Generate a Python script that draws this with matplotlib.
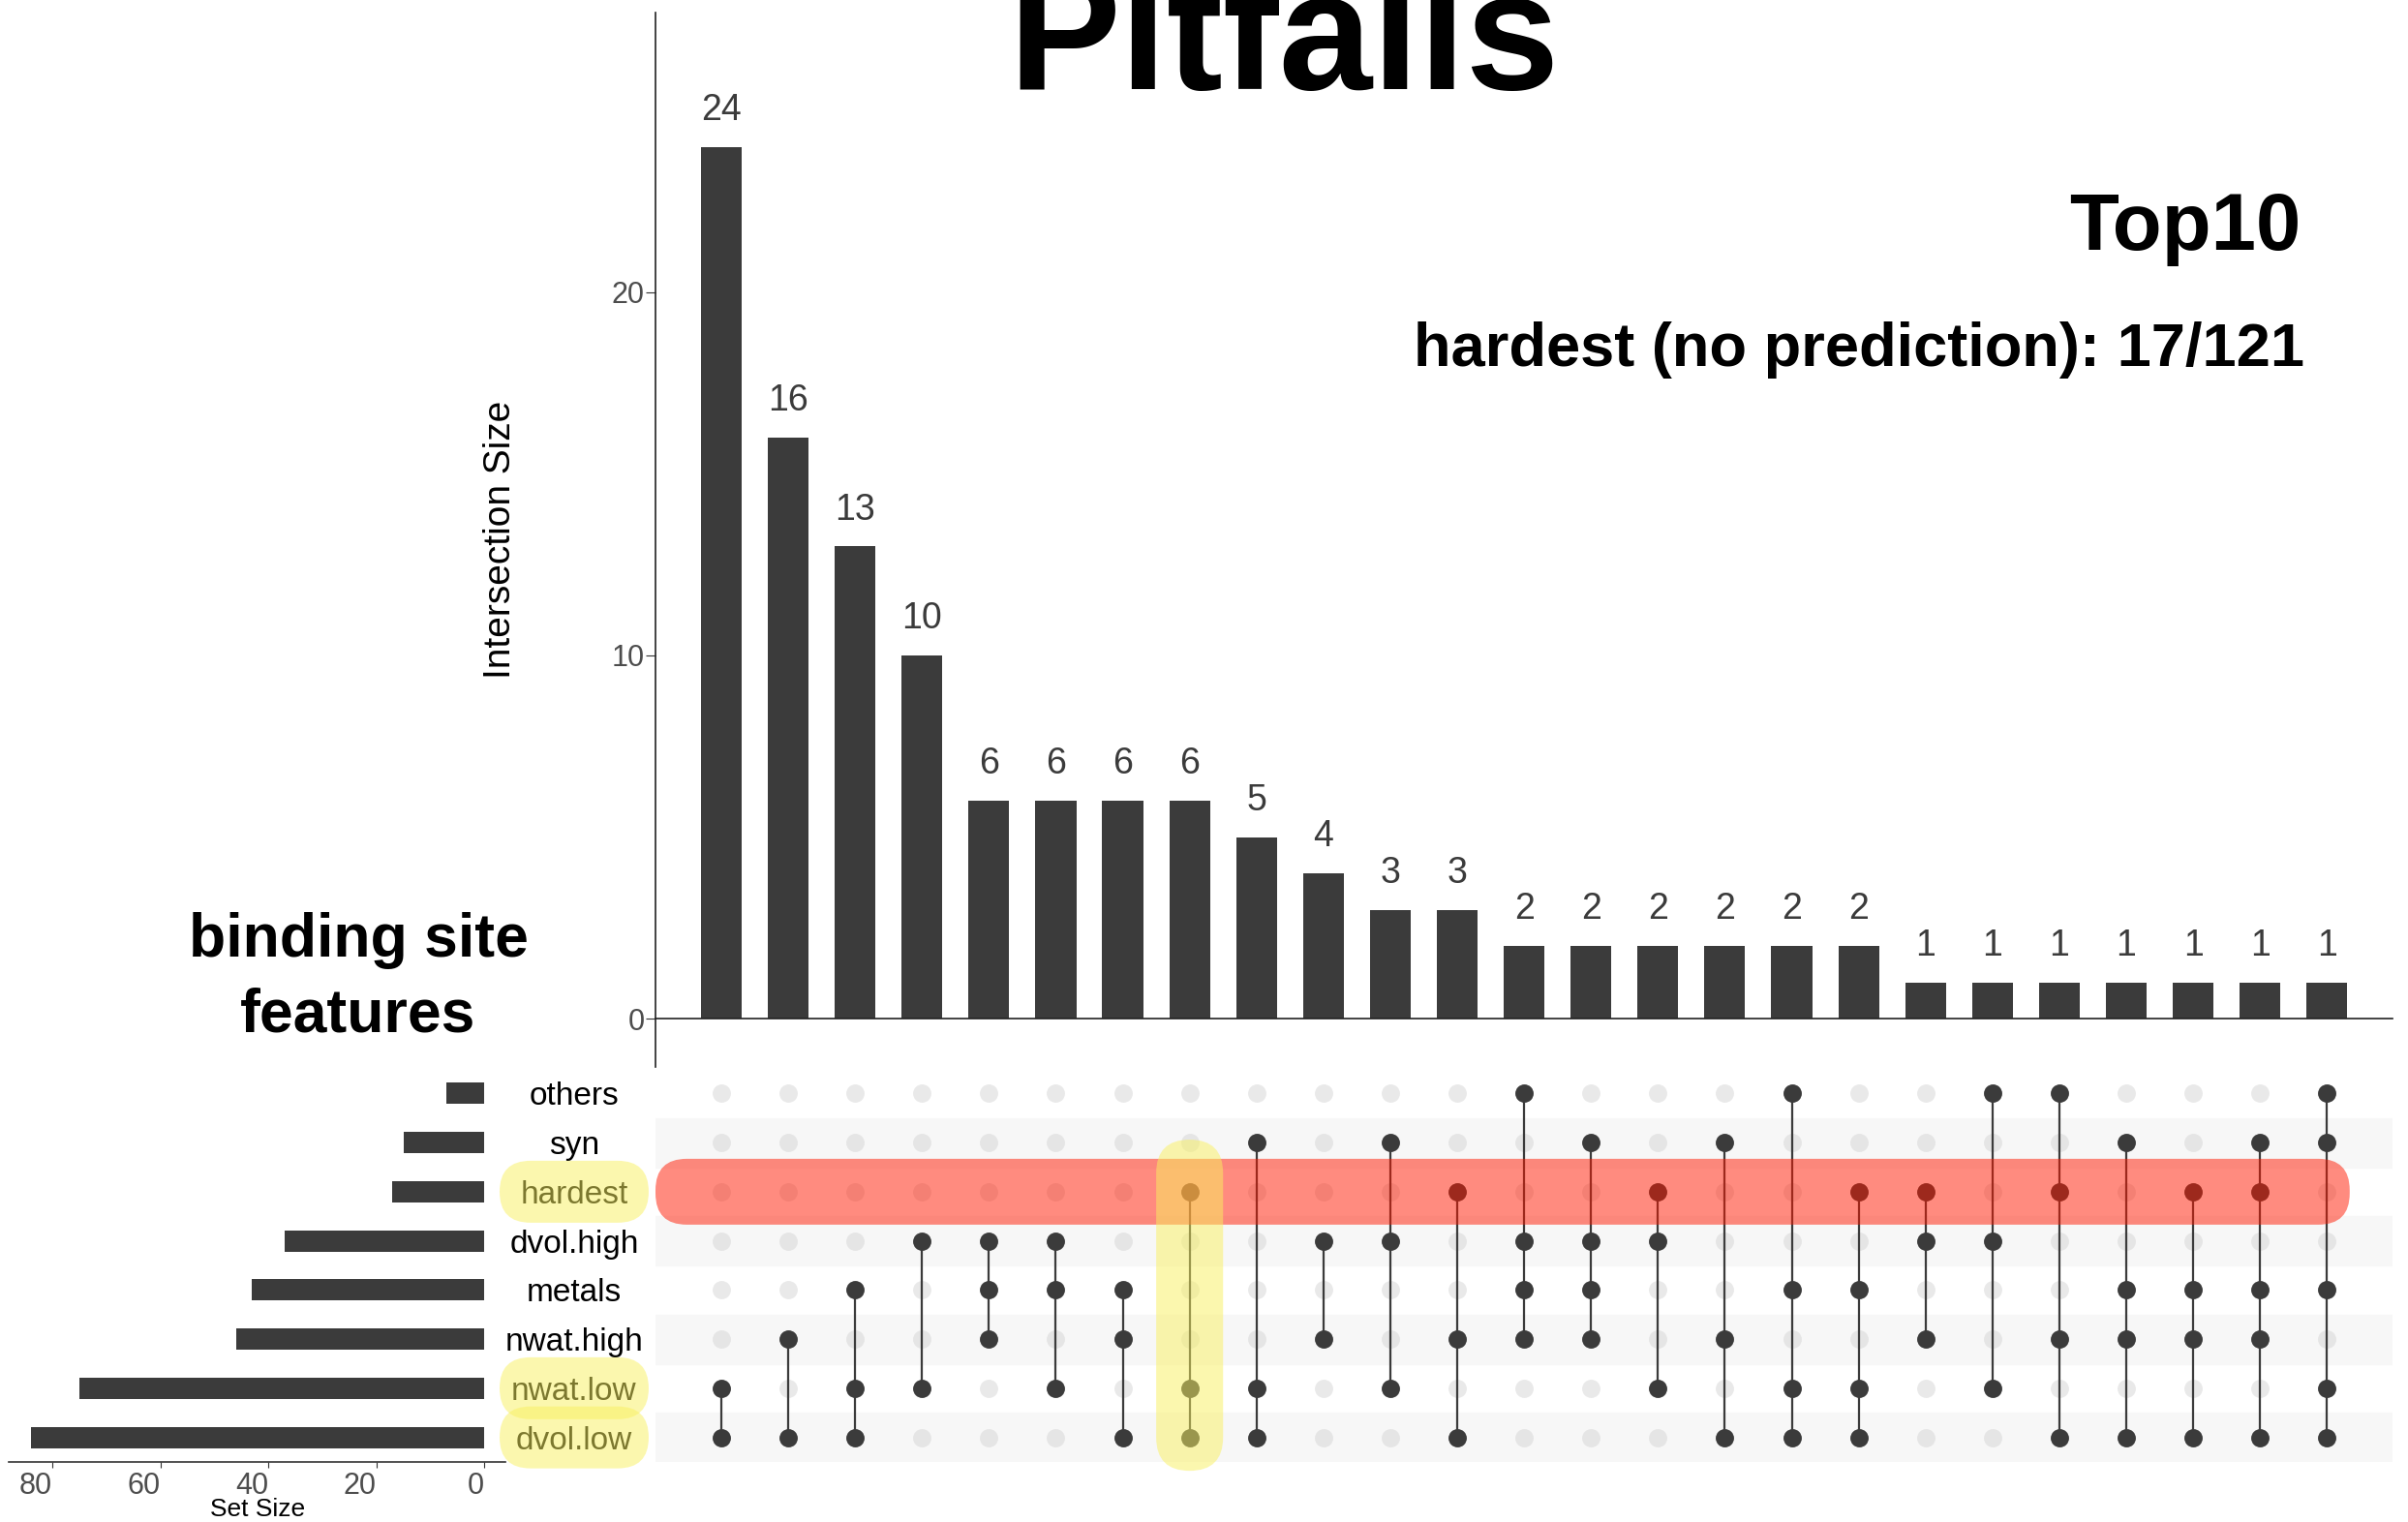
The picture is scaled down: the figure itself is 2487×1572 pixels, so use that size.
import matplotlib
matplotlib.use('Agg')
import matplotlib.pyplot as plt
import numpy as np
from matplotlib.patches import FancyBboxPatch

plt.rcParams['font.family'] = ['Liberation Sans', 'DejaVu Sans']

# sets, top row first
sets = ['others', 'syn', 'hardest', 'dvol.high', 'metals', 'nwat.high', 'nwat.low', 'dvol.low']
set_sizes = [7, 15, 17, 37, 43, 46, 75, 84]

# intersections, ordered by size
intersection_sizes = [24, 16, 13, 10, 6, 6, 6, 6, 5, 4, 3, 3, 2, 2, 2, 2, 2, 2, 1, 1, 1, 1, 1, 1, 1]
intersection_members = [
    ['nwat.low', 'dvol.low'],
    ['nwat.high', 'dvol.low'],
    ['metals', 'nwat.low', 'dvol.low'],
    ['dvol.high', 'nwat.low'],
    ['dvol.high', 'metals', 'nwat.high'],
    ['dvol.high', 'metals', 'nwat.low'],
    ['metals', 'nwat.high', 'dvol.low'],
    ['hardest', 'nwat.low', 'dvol.low'],
    ['syn', 'nwat.low', 'dvol.low'],
    ['dvol.high', 'nwat.high'],
    ['syn', 'dvol.high', 'nwat.low'],
    ['hardest', 'nwat.high', 'dvol.low'],
    ['others', 'dvol.high', 'metals', 'nwat.high'],
    ['syn', 'dvol.high', 'metals', 'nwat.high'],
    ['hardest', 'dvol.high', 'nwat.low'],
    ['syn', 'nwat.high', 'dvol.low'],
    ['others', 'metals', 'nwat.low', 'dvol.low'],
    ['hardest', 'metals', 'nwat.low', 'dvol.low'],
    ['hardest', 'dvol.high', 'nwat.high'],
    ['others', 'dvol.high', 'nwat.low'],
    ['others', 'hardest', 'nwat.high', 'dvol.low'],
    ['syn', 'metals', 'nwat.high', 'dvol.low'],
    ['hardest', 'metals', 'nwat.high', 'dvol.low'],
    ['syn', 'hardest', 'metals', 'nwat.high', 'dvol.low'],
    ['others', 'syn', 'metals', 'nwat.low', 'dvol.low'],
]

# highlights
highlight_row = 'hardest'
highlight_col = 7
highlight_labels = ['hardest', 'nwat.low', 'dvol.low']

bar_color = '#3b3b3b'
red = '#ff1900'
yellow = '#f9f15f'

W, H = 2487, 1572
fig = plt.figure(figsize=(W / 100, H / 100), dpi=100)


def px_axes(l, t, r, b):
    return fig.add_axes([l / W, 1 - b / H, (r - l) / W, (b - t) / H])


n_cols = len(intersection_sizes)
xlim = (-0.984, n_cols - 0.02)

# ---- set size bars (left) ----
ax_set = px_axes(9, 1104, 522, 1510)
rows = np.arange(len(sets))
ax_set.barh(rows, set_sizes, height=0.43, color=bar_color)
ax_set.set_ylim(len(sets) - 0.5, -0.5)
ax_set.set_xlim(88.1, -3.9)
ax_set.set_xticks([80, 60, 40, 20, 0])
ax_set.set_xticklabels(['80', '60', '40', '20', '0'], ha='right')
ax_set.tick_params(axis='x', labelsize=22, labelcolor='#4d4d4d', color='#333333', length=4, pad=3)
ax_set.set_yticks([])
for s in ['left', 'right', 'top']:
    ax_set.spines[s].set_visible(False)
ax_set.spines['bottom'].set_color('#333333')
ax_set.spines['bottom'].set_linewidth(1.2)
ax_set.patch.set_alpha(0)
fig.text(266 / W, 1 - 1566 / H, 'Set Size', ha='center', va='baseline', fontsize=19)

# ---- intersection size bars (top) ----
ax_bar = px_axes(677, 13, 2471, 1102)
cols = np.arange(n_cols)
ax_bar.bar(cols, intersection_sizes, width=0.61, color=bar_color)
for c, v in zip(cols, intersection_sizes):
    ax_bar.annotate(str(v), (c, v), xytext=(0, 20), textcoords='offset points',
                    ha='center', va='baseline', fontsize=27, color='#3b3b3b')
ax_bar.set_xlim(*xlim)
ax_bar.set_ylim(-1.33, 27.7)
ax_bar.set_yticks([0, 10, 20])
ax_bar.tick_params(axis='y', labelsize=22, labelcolor='#4d4d4d', color='#333333', length=7, pad=1)
ax_bar.set_xticks([])
ax_bar.spines['top'].set_visible(False)
ax_bar.spines['right'].set_visible(False)
ax_bar.spines['bottom'].set_position(('data', 0))
for s in ['left', 'bottom']:
    ax_bar.spines[s].set_color('#222222')
    ax_bar.spines[s].set_linewidth(1.2)
ax_bar.set_ylabel('Intersection Size', fontsize=28)
ax_bar.yaxis.set_label_coords(-0.0792, 0.5)
ax_bar.patch.set_alpha(0)

# ---- matrix ----
ax_mat = px_axes(677, 1104, 2471, 1510)
ax_mat.set_xlim(*xlim)
ax_mat.set_ylim(len(sets) - 0.5, -0.5)
ax_mat.axis('off')
for r in rows:
    if r % 2 == 1:
        ax_mat.axhspan(r - 0.5, r + 0.5, color='#f7f7f7', zorder=0)

for c, members in enumerate(intersection_members):
    active = [sets.index(m) for m in members]
    inactive = [r for r in rows if r not in active]
    ax_mat.scatter([c] * len(inactive), inactive, s=185, color='#d4d4d4', alpha=0.5,
                   linewidths=0, zorder=2)
    ax_mat.plot([c, c], [min(active), max(active)], color=bar_color, lw=1.6, zorder=3)
    ax_mat.scatter([c] * len(active), active, s=185, color=bar_color, linewidths=0, zorder=4)

# set name labels
label_x = -2.2
for r, name in zip(rows, sets):
    ax_mat.text(label_x, r, name, ha='center', va='center_baseline', fontsize=24, clip_on=False)

# pixel aspect so rounded ends come out circular
px_x = (2471 - 677) / (xlim[1] - xlim[0])
px_y = (1510 - 1104) / len(sets)
asp = px_x / px_y

# red band across the hardest row
hr = sets.index(highlight_row)
band_h = 68 / px_y
band = FancyBboxPatch((xlim[0], hr - band_h / 2), (n_cols - 1 + 0.34) - xlim[0], band_h,
                      boxstyle='round,pad=0,rounding_size=%f' % (band_h / 2 / asp * 0.95),
                      mutation_aspect=asp, facecolor=red, edgecolor='none',
                      alpha=0.5, zorder=5, clip_on=False)
ax_mat.add_patch(band)

# yellow column over the highlighted intersection
col_w = 1.0
col_top, col_bot = 0.94, 7.68
ycol = FancyBboxPatch((highlight_col - col_w / 2, col_top), col_w, col_bot - col_top,
                      boxstyle='round,pad=0,rounding_size=%f' % (col_w / 2),
                      mutation_aspect=asp, facecolor=yellow, edgecolor='none',
                      alpha=0.5, zorder=6, clip_on=False)
ax_mat.add_patch(ycol)

# yellow pills on set labels
pill_w = 154 / px_x
pill_h = 64 / px_y
for name in highlight_labels:
    r = sets.index(name)
    pill = FancyBboxPatch((label_x - pill_w / 2, r - pill_h / 2), pill_w, pill_h,
                          boxstyle='round,pad=0,rounding_size=%f' % (pill_h / 2 / asp),
                          mutation_aspect=asp, facecolor=yellow, edgecolor='none',
                          alpha=0.5, zorder=6, clip_on=False)
    ax_mat.add_patch(pill)

# ---- titles ----
fig.text(1326 / W, 1 - 92 / H, 'Pitfalls', ha='center', va='baseline', fontsize=125, fontweight='bold')
fig.text(2376 / W, 1 - 258 / H, 'Top10', ha='right', va='baseline', fontsize=60, fontweight='bold')
fig.text(2380 / W, 1 - 378 / H, 'hardest (no prediction): 17/121', ha='right', va='baseline',
         fontsize=45.5, fontweight='bold')
fig.text(370 / W, 1 - 988 / H, 'binding site', ha='center', va='baseline',
         fontsize=45, fontweight='bold')
fig.text(370 / W, 1 - 1065 / H, 'features', ha='center', va='baseline',
         fontsize=45, fontweight='bold')

plt.savefig('out.png', dpi=100)
